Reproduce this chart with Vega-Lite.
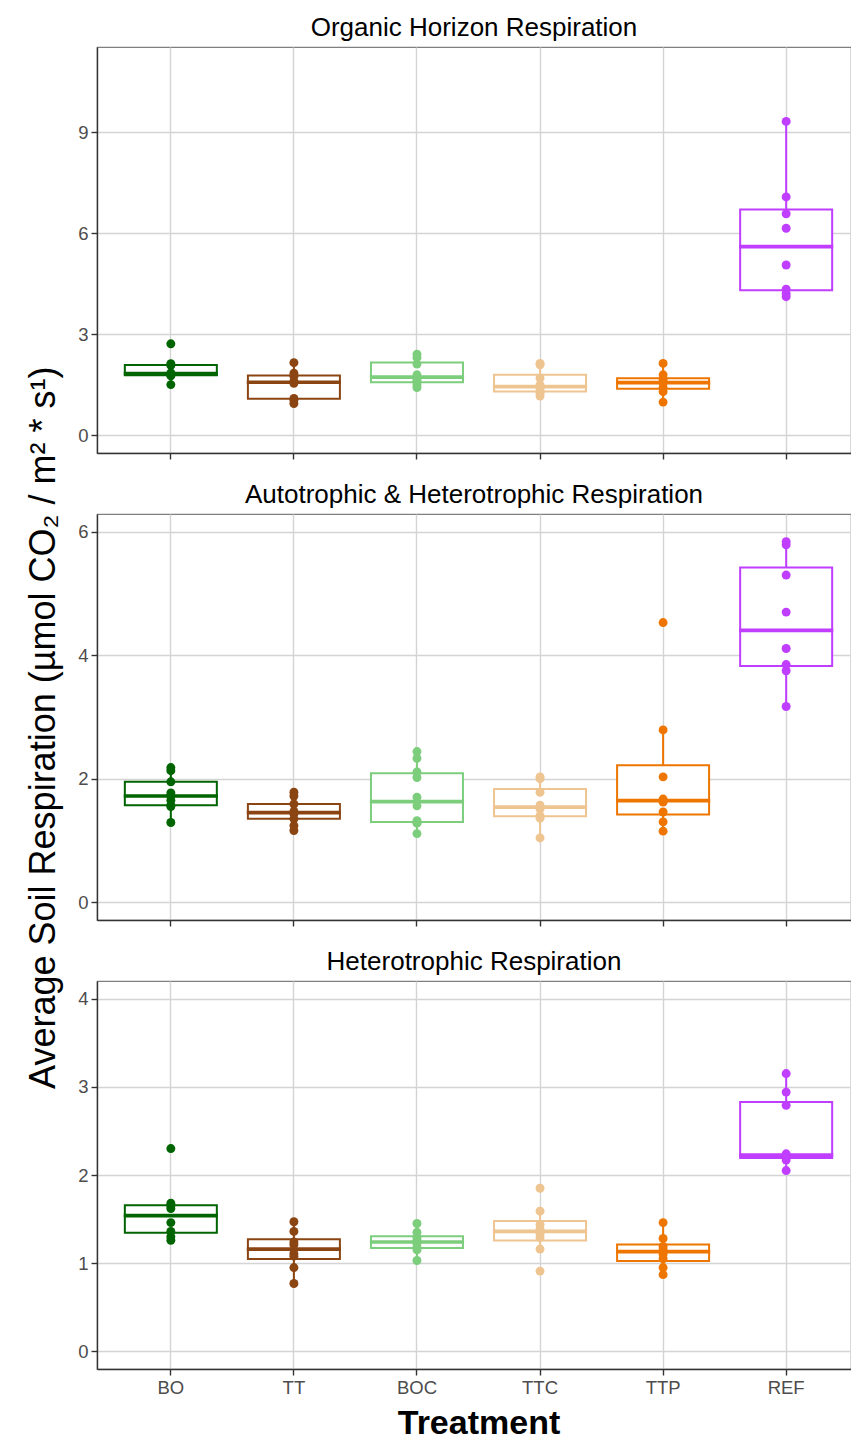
{
  "$schema": "https://vega.github.io/schema/vega-lite/v6.json",
  "autosize": {"type": "pad"},
  "padding": {"left": 26, "top": 14, "right": 0, "bottom": 0},
  "background": "white",
  "title": {"text": "Average Soil Respiration (µmol CO₂ / m² * s¹)", "orient": "left", "anchor": "middle", "fontSize": 36, "fontWeight": "normal", "color": "black", "offset": 14},
  "config": {
    "font": "Liberation Sans",
    "view": {"stroke": "#7f7f7f", "strokeWidth": 1.2},
    "axis": {"gridColor": "#d4d4d4", "gridWidth": 1.4, "domainColor": "#333333", "domainWidth": 1.4, "tickColor": "#333333", "tickSize": 6, "tickWidth": 1.4, "labelColor": "#4d4d4d", "labelFontSize": 18.5, "labelPadding": 3, "titleColor": "black"},
    "axisX": {"grid": true, "bandPosition": 0.5},
    "title": {"font": "Liberation Sans"}
  },
  "data": {"values": [
    {"panel":"O","treatment":"BO","value":1.51},{"panel":"O","treatment":"BO","value":1.77},{"panel":"O","treatment":"BO","value":1.79},{"panel":"O","treatment":"BO","value":1.82},{"panel":"O","treatment":"BO","value":1.86},{"panel":"O","treatment":"BO","value":2.08},{"panel":"O","treatment":"BO","value":2.13},{"panel":"O","treatment":"BO","value":2.72},
    {"panel":"O","treatment":"TT","value":0.95},{"panel":"O","treatment":"TT","value":1.05},{"panel":"O","treatment":"TT","value":1.10},{"panel":"O","treatment":"TT","value":1.55},{"panel":"O","treatment":"TT","value":1.61},{"panel":"O","treatment":"TT","value":1.76},{"panel":"O","treatment":"TT","value":1.85},{"panel":"O","treatment":"TT","value":2.16},
    {"panel":"O","treatment":"BOC","value":1.42},{"panel":"O","treatment":"BOC","value":1.50},{"panel":"O","treatment":"BOC","value":1.61},{"panel":"O","treatment":"BOC","value":1.66},{"panel":"O","treatment":"BOC","value":1.80},{"panel":"O","treatment":"BOC","value":2.12},{"panel":"O","treatment":"BOC","value":2.31},{"panel":"O","treatment":"BOC","value":2.41},
    {"panel":"O","treatment":"TTC","value":1.17},{"panel":"O","treatment":"TTC","value":1.25},{"panel":"O","treatment":"TTC","value":1.32},{"panel":"O","treatment":"TTC","value":1.40},{"panel":"O","treatment":"TTC","value":1.50},{"panel":"O","treatment":"TTC","value":1.70},{"panel":"O","treatment":"TTC","value":2.10},{"panel":"O","treatment":"TTC","value":2.14},
    {"panel":"O","treatment":"TTP","value":0.99},{"panel":"O","treatment":"TTP","value":1.30},{"panel":"O","treatment":"TTP","value":1.42},{"panel":"O","treatment":"TTP","value":1.55},{"panel":"O","treatment":"TTP","value":1.59},{"panel":"O","treatment":"TTP","value":1.66},{"panel":"O","treatment":"TTP","value":1.80},{"panel":"O","treatment":"TTP","value":2.14},
    {"panel":"O","treatment":"REF","value":4.12},{"panel":"O","treatment":"REF","value":4.21},{"panel":"O","treatment":"REF","value":4.34},{"panel":"O","treatment":"REF","value":5.06},{"panel":"O","treatment":"REF","value":6.15},{"panel":"O","treatment":"REF","value":6.58},{"panel":"O","treatment":"REF","value":7.08},{"panel":"O","treatment":"REF","value":9.32},
    {"panel":"A","treatment":"BO","value":1.29},{"panel":"A","treatment":"BO","value":1.55},{"panel":"A","treatment":"BO","value":1.57},{"panel":"A","treatment":"BO","value":1.65},{"panel":"A","treatment":"BO","value":1.72},{"panel":"A","treatment":"BO","value":1.77},{"panel":"A","treatment":"BO","value":1.95},{"panel":"A","treatment":"BO","value":2.13},{"panel":"A","treatment":"BO","value":2.18},
    {"panel":"A","treatment":"TT","value":1.16},{"panel":"A","treatment":"TT","value":1.24},{"panel":"A","treatment":"TT","value":1.35},{"panel":"A","treatment":"TT","value":1.43},{"panel":"A","treatment":"TT","value":1.45},{"panel":"A","treatment":"TT","value":1.47},{"panel":"A","treatment":"TT","value":1.59},{"panel":"A","treatment":"TT","value":1.72},{"panel":"A","treatment":"TT","value":1.78},
    {"panel":"A","treatment":"BOC","value":1.11},{"panel":"A","treatment":"BOC","value":1.28},{"panel":"A","treatment":"BOC","value":1.29},{"panel":"A","treatment":"BOC","value":1.32},{"panel":"A","treatment":"BOC","value":1.56},{"panel":"A","treatment":"BOC","value":1.70},{"panel":"A","treatment":"BOC","value":2.02},{"panel":"A","treatment":"BOC","value":2.11},{"panel":"A","treatment":"BOC","value":2.33},{"panel":"A","treatment":"BOC","value":2.44},
    {"panel":"A","treatment":"TTC","value":1.04},{"panel":"A","treatment":"TTC","value":1.36},{"panel":"A","treatment":"TTC","value":1.40},{"panel":"A","treatment":"TTC","value":1.51},{"panel":"A","treatment":"TTC","value":1.57},{"panel":"A","treatment":"TTC","value":1.78},{"panel":"A","treatment":"TTC","value":2.00},{"panel":"A","treatment":"TTC","value":2.03},
    {"panel":"A","treatment":"TTP","value":1.15},{"panel":"A","treatment":"TTP","value":1.30},{"panel":"A","treatment":"TTP","value":1.46},{"panel":"A","treatment":"TTP","value":1.62},{"panel":"A","treatment":"TTP","value":1.67},{"panel":"A","treatment":"TTP","value":2.03},{"panel":"A","treatment":"TTP","value":2.79},{"panel":"A","treatment":"TTP","value":4.53},
    {"panel":"A","treatment":"REF","value":3.17},{"panel":"A","treatment":"REF","value":3.75},{"panel":"A","treatment":"REF","value":3.85},{"panel":"A","treatment":"REF","value":4.11},{"panel":"A","treatment":"REF","value":4.70},{"panel":"A","treatment":"REF","value":5.30},{"panel":"A","treatment":"REF","value":5.79},{"panel":"A","treatment":"REF","value":5.84},
    {"panel":"H","treatment":"BO","value":1.26},{"panel":"H","treatment":"BO","value":1.30},{"panel":"H","treatment":"BO","value":1.36},{"panel":"H","treatment":"BO","value":1.46},{"panel":"H","treatment":"BO","value":1.62},{"panel":"H","treatment":"BO","value":1.65},{"panel":"H","treatment":"BO","value":1.68},{"panel":"H","treatment":"BO","value":2.30},
    {"panel":"H","treatment":"TT","value":0.77},{"panel":"H","treatment":"TT","value":0.95},{"panel":"H","treatment":"TT","value":1.08},{"panel":"H","treatment":"TT","value":1.11},{"panel":"H","treatment":"TT","value":1.21},{"panel":"H","treatment":"TT","value":1.24},{"panel":"H","treatment":"TT","value":1.36},{"panel":"H","treatment":"TT","value":1.47},
    {"panel":"H","treatment":"BOC","value":1.03},{"panel":"H","treatment":"BOC","value":1.15},{"panel":"H","treatment":"BOC","value":1.18},{"panel":"H","treatment":"BOC","value":1.22},{"panel":"H","treatment":"BOC","value":1.26},{"panel":"H","treatment":"BOC","value":1.29},{"panel":"H","treatment":"BOC","value":1.35},{"panel":"H","treatment":"BOC","value":1.45},
    {"panel":"H","treatment":"TTC","value":0.91},{"panel":"H","treatment":"TTC","value":1.16},{"panel":"H","treatment":"TTC","value":1.29},{"panel":"H","treatment":"TTC","value":1.33},{"panel":"H","treatment":"TTC","value":1.39},{"panel":"H","treatment":"TTC","value":1.44},{"panel":"H","treatment":"TTC","value":1.59},{"panel":"H","treatment":"TTC","value":1.85},
    {"panel":"H","treatment":"TTP","value":0.87},{"panel":"H","treatment":"TTP","value":0.95},{"panel":"H","treatment":"TTP","value":1.05},{"panel":"H","treatment":"TTP","value":1.10},{"panel":"H","treatment":"TTP","value":1.16},{"panel":"H","treatment":"TTP","value":1.19},{"panel":"H","treatment":"TTP","value":1.28},{"panel":"H","treatment":"TTP","value":1.46},
    {"panel":"H","treatment":"REF","value":2.05},{"panel":"H","treatment":"REF","value":2.17},{"panel":"H","treatment":"REF","value":2.20},{"panel":"H","treatment":"REF","value":2.21},{"panel":"H","treatment":"REF","value":2.24},{"panel":"H","treatment":"REF","value":2.79},{"panel":"H","treatment":"REF","value":2.94},{"panel":"H","treatment":"REF","value":3.15}
  ]},
  "spacing": 61,
  "bounds": "flush",
  "vconcat": [
    {
      "title": {"text": "Organic Horizon Respiration", "fontSize": 26, "fontWeight": "normal", "color": "black", "anchor": "middle", "offset": 6},
      "width": 754, "height": 406,
      "transform": [{"filter": {"field": "panel", "equal": "O"}}],
      "layer": [
        {"mark": {"type": "boxplot", "extent": 1.5, "size": 92, "outliers": false, "box": {"fill": "white", "strokeWidth": 2}, "median": {"strokeWidth": 2.2, "thickness": 1.5, "opacity": 1}, "rule": {"strokeWidth": 2}},
         "encoding": {
           "x": {"field": "treatment", "type": "nominal", "scale": {"domain": ["BO","TT","BOC","TTC","TTP","REF"], "range": [0, 763], "paddingInner": 0, "paddingOuter": 0.1}, "axis": {"labels": false, "title": null}},
           "y": {"field": "value", "type": "quantitative", "scale": {"domain": [-0.52, 11.53], "nice": false, "zero": false}, "axis": {"values": [0,3,6,9], "title": null, "format": "d"}},
           "stroke": {"field": "treatment", "type": "nominal", "scale": {"domain": ["BO","TT","BOC","TTC","TTP","REF"], "range": ["#006400","#8B4513","#7CCD7C","#EEC591","#EE7600","#BF3EFF"]}, "legend": null}
         }},
        {"mark": {"type": "circle", "size": 80, "opacity": 1},
         "encoding": {
           "x": {"field": "treatment", "type": "nominal"},
           "y": {"field": "value", "type": "quantitative"},
           "color": {"field": "treatment", "type": "nominal", "scale": {"domain": ["BO","TT","BOC","TTC","TTP","REF"], "range": ["#006400","#8B4513","#7CCD7C","#EEC591","#EE7600","#BF3EFF"]}, "legend": null}
         }}
      ]
    },
    {
      "title": {"text": "Autotrophic & Heterotrophic Respiration", "fontSize": 26, "fontWeight": "normal", "color": "black", "anchor": "middle", "offset": 6},
      "width": 754, "height": 406,
      "transform": [{"filter": {"field": "panel", "equal": "A"}}],
      "layer": [
        {"mark": {"type": "boxplot", "extent": 1.5, "size": 92, "outliers": false, "box": {"fill": "white", "strokeWidth": 2}, "median": {"strokeWidth": 2.2, "thickness": 1.5, "opacity": 1}, "rule": {"strokeWidth": 2}},
         "encoding": {
           "x": {"field": "treatment", "type": "nominal", "scale": {"domain": ["BO","TT","BOC","TTC","TTP","REF"], "range": [0, 763], "paddingInner": 0, "paddingOuter": 0.1}, "axis": {"labels": false, "title": null}},
           "y": {"field": "value", "type": "quantitative", "scale": {"domain": [-0.29, 6.29], "nice": false, "zero": false}, "axis": {"values": [0,2,4,6], "title": null, "format": "d"}},
           "stroke": {"field": "treatment", "type": "nominal", "scale": {"domain": ["BO","TT","BOC","TTC","TTP","REF"], "range": ["#006400","#8B4513","#7CCD7C","#EEC591","#EE7600","#BF3EFF"]}, "legend": null}
         }},
        {"mark": {"type": "circle", "size": 80, "opacity": 1},
         "encoding": {
           "x": {"field": "treatment", "type": "nominal"},
           "y": {"field": "value", "type": "quantitative"},
           "color": {"field": "treatment", "type": "nominal", "scale": {"domain": ["BO","TT","BOC","TTC","TTP","REF"], "range": ["#006400","#8B4513","#7CCD7C","#EEC591","#EE7600","#BF3EFF"]}, "legend": null}
         }}
      ]
    },
    {
      "title": {"text": "Heterotrophic Respiration", "fontSize": 26, "fontWeight": "normal", "color": "black", "anchor": "middle", "offset": 6},
      "width": 754, "height": 388,
      "transform": [{"filter": {"field": "panel", "equal": "H"}}],
      "layer": [
        {"mark": {"type": "boxplot", "extent": 1.5, "size": 92, "outliers": false, "box": {"fill": "white", "strokeWidth": 2}, "median": {"strokeWidth": 2.2, "thickness": 1.5, "opacity": 1}, "rule": {"strokeWidth": 2}},
         "encoding": {
           "x": {"field": "treatment", "type": "nominal", "scale": {"domain": ["BO","TT","BOC","TTC","TTP","REF"], "range": [0, 763], "paddingInner": 0, "paddingOuter": 0.1}, "axis": {"labelAngle": 0, "title": "Treatment", "titleFontSize": 34, "titleFontWeight": "bold", "titlePadding": 10}},
           "y": {"field": "value", "type": "quantitative", "scale": {"domain": [-0.2, 4.2], "nice": false, "zero": false}, "axis": {"values": [0,1,2,3,4], "title": null, "format": "d"}},
           "stroke": {"field": "treatment", "type": "nominal", "scale": {"domain": ["BO","TT","BOC","TTC","TTP","REF"], "range": ["#006400","#8B4513","#7CCD7C","#EEC591","#EE7600","#BF3EFF"]}, "legend": null}
         }},
        {"mark": {"type": "circle", "size": 80, "opacity": 1},
         "encoding": {
           "x": {"field": "treatment", "type": "nominal"},
           "y": {"field": "value", "type": "quantitative"},
           "color": {"field": "treatment", "type": "nominal", "scale": {"domain": ["BO","TT","BOC","TTC","TTP","REF"], "range": ["#006400","#8B4513","#7CCD7C","#EEC591","#EE7600","#BF3EFF"]}, "legend": null}
         }}
      ]
    }
  ]
}
